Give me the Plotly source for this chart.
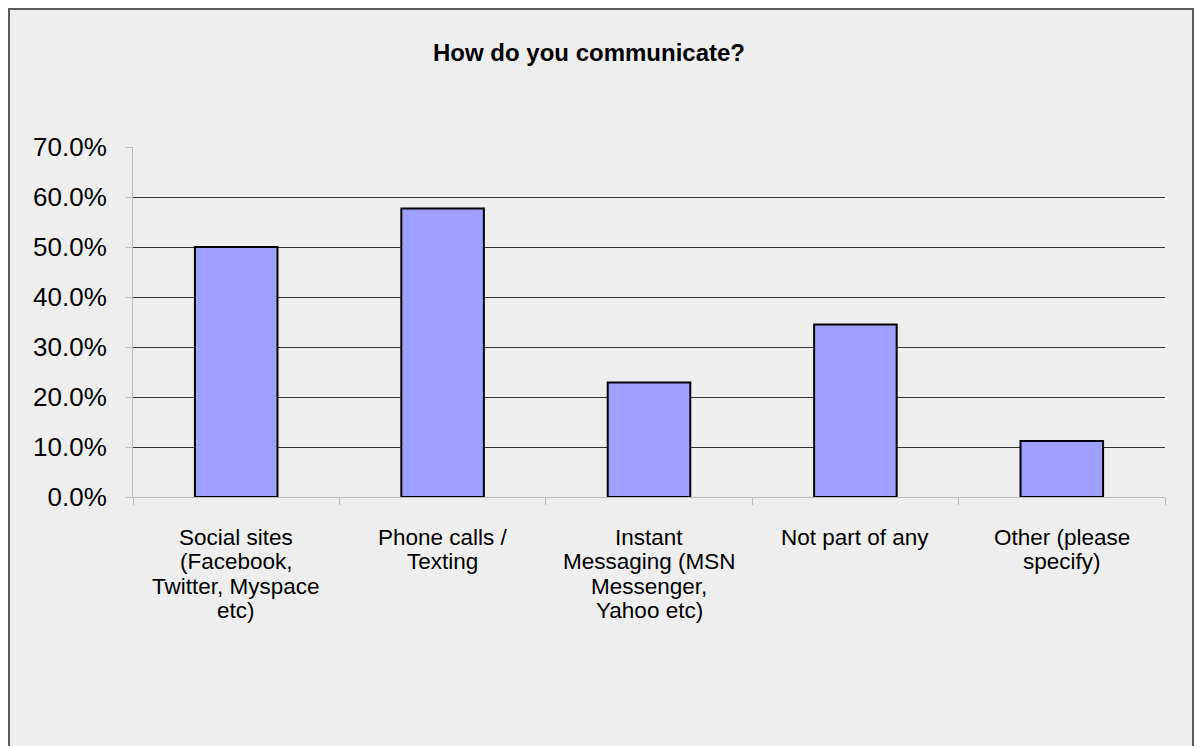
import plotly.graph_objects as go

# Survey results: share of respondents per communication channel
categories = [
    "Social sites",
    "Phone calls",
    "Instant Messaging",
    "Not part of any",
    "Other",
]
tick_label_lines = [
    ["Social sites", "(Facebook,", "Twitter, Myspace", "etc)"],
    ["Phone calls /", "Texting"],
    ["Instant", "Messaging (MSN", "Messenger,", "Yahoo etc)"],
    ["Not part of any"],
    ["Other (please", "specify)"],
]
shares = [0.500, 0.577, 0.229, 0.345, 0.112]
y_ticks = [0.0, 0.1, 0.2, 0.3, 0.4, 0.5, 0.6, 0.7]
y_tick_labels = ["0.0%", "10.0%", "20.0%", "30.0%", "40.0%", "50.0%", "60.0%", "70.0%"]

FONT = "Liberation Sans, Arial, sans-serif"

fig = go.Figure(
    go.Bar(
        x=categories,
        y=shares,
        marker=dict(color="#9f9fff", line=dict(color="#000000", width=2)),
        hoverinfo="x+y",
    )
)

W, H = 1199, 746
L, R, T, B = 133, 34, 147, 249
pw, ph = W - L - R, H - T - B


def px_x(p):
    return (p - L) / pw


def px_y(p):
    return (H - B - p) / ph


# multi-line category labels with tight line spacing
annotations = []
for cat, lines in zip(categories, tick_label_lines):
    for i, line in enumerate(lines):
        annotations.append(
            dict(
                x=cat,
                xref="x",
                y=0,
                yref="paper",
                yanchor="middle",
                xanchor="center",
                yshift=-(40 + i * 24.5),
                text=line,
                showarrow=False,
                font=dict(size=22.5, family=FONT, color="#000000"),
            )
        )

fig.update_layout(
    width=W,
    height=H,
    margin=dict(l=L, r=R, t=T, b=B, pad=0),
    paper_bgcolor="#ffffff",
    plot_bgcolor="rgba(0,0,0,0)",
    bargap=0.6,
    showlegend=False,
    font=dict(family=FONT, color="#000000"),
    title=dict(
        text="<b>How do you communicate?</b>",
        x=589 / W,
        xanchor="center",
        y=1 - 53 / H,
        yanchor="middle",
        yref="container",
        xref="container",
        font=dict(size=24, family=FONT, color="#000000"),
    ),
    annotations=annotations,
    shapes=[
        dict(
            type="rect",
            xref="paper",
            yref="paper",
            x0=px_x(9),
            x1=px_x(1193),
            y0=px_y(770),
            y1=px_y(9),
            fillcolor="#eeeeee",
            line=dict(color="#5a5a5a", width=2),
            layer="below",
        )
    ],
)

fig.update_yaxes(
    range=[0, 0.7],
    tickvals=y_ticks,
    ticktext=y_tick_labels,
    showgrid=True,
    gridcolor="#333333",
    gridwidth=1,
    zeroline=False,
    showline=True,
    linecolor="#bbbbbb",
    linewidth=1,
    ticks="outside",
    ticklen=6,
    tickcolor="#bbbbbb",
    tickfont=dict(size=26, family=FONT, color="#000000"),
    ticklabelstandoff=14,
)

fig.update_xaxes(
    showgrid=False,
    showline=True,
    linecolor="#bbbbbb",
    linewidth=1,
    ticks="outside",
    ticklen=7,
    tickcolor="#bbbbbb",
    tickson="boundaries",
    showticklabels=False,
)

fig.write_html("out.html")
